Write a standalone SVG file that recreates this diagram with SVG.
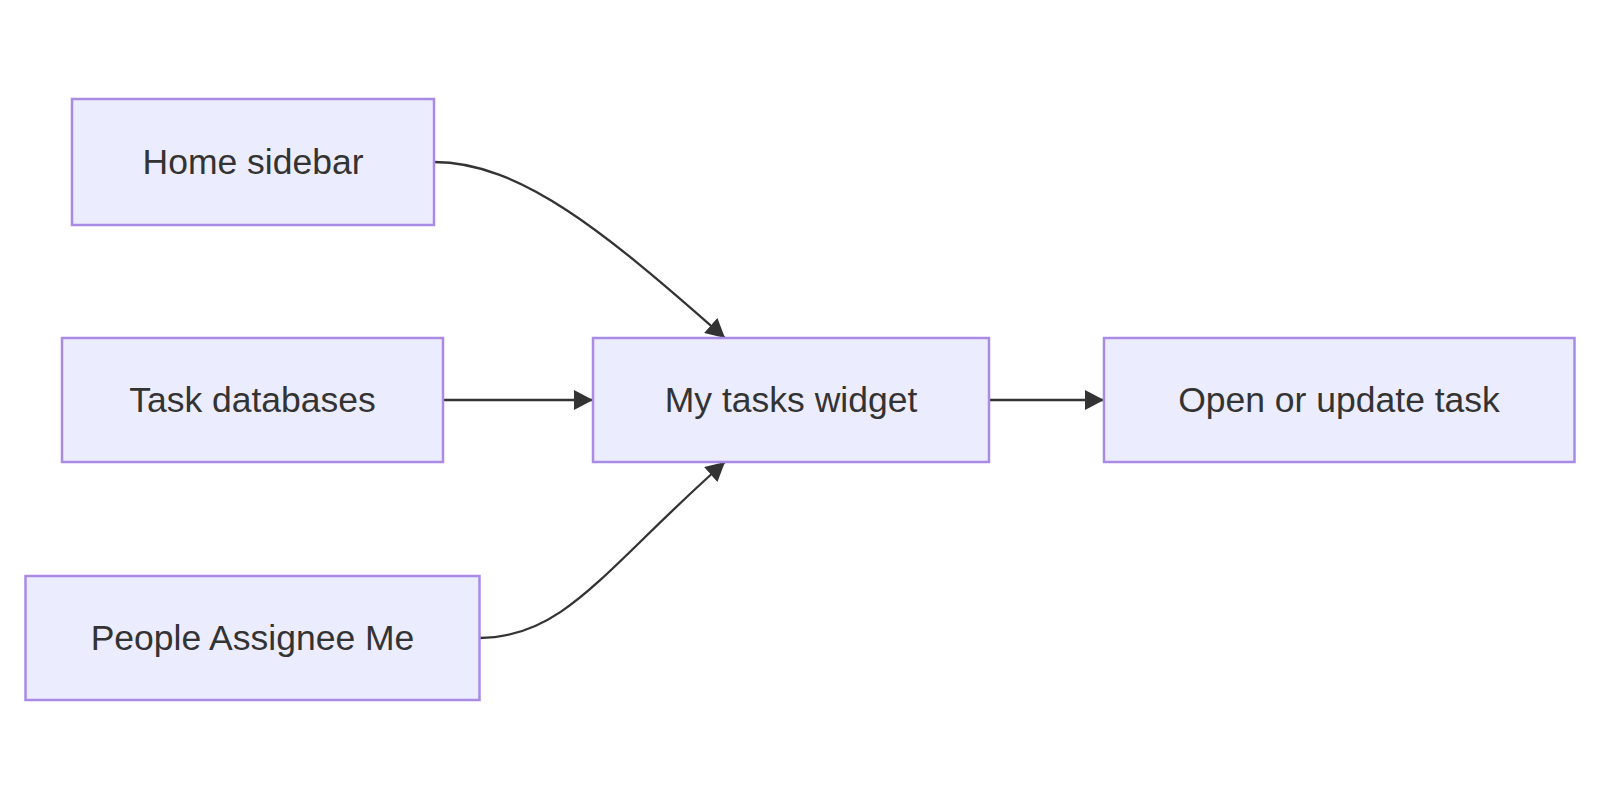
<svg xmlns="http://www.w3.org/2000/svg" width="1600" height="800" viewBox="0 0 1600 800">
  <style>
    .node rect { fill: #ECECFF; stroke: #A98BE6; stroke-width: 2.5; }
    .node text { font-family: "Liberation Sans", Arial, sans-serif; font-size: 35.5px; fill: #333333; text-anchor: middle; dominant-baseline: central; }
    .edge { fill: none; stroke: #333333; stroke-width: 2.3; marker-end: url(#arrow); }
  </style>
  <defs>
    <marker id="arrow" markerUnits="userSpaceOnUse" viewBox="0 0 19 20" refX="19" refY="10" markerWidth="19" markerHeight="20" orient="auto">
      <path d="M0,0 L19,10 L0,20 z" fill="#333333"/>
    </marker>
  </defs>
  <rect width="1600" height="800" fill="#ffffff"/>
  <g id="connectors">
    <path class="edge" d="M434,162 C520,162 605,232 725,338"/>
    <path class="edge" d="M443,400 L593,400"/>
    <path class="edge" d="M479,638 C565,638 605,568 725,462"/>
    <path class="edge" d="M989,400 L1104,400"/>
  </g>
  <g id="home-sidebar" class="node">
    <rect x="72" y="99" width="362" height="126"/>
    <text x="253" y="162">Home sidebar</text>
  </g>
  <g id="task-databases" class="node">
    <rect x="62" y="338" width="381" height="124"/>
    <text x="252.5" y="400">Task databases</text>
  </g>
  <g id="people-assignee-me" class="node">
    <rect x="25.5" y="576" width="454" height="124"/>
    <text x="252.5" y="638">People Assignee Me</text>
  </g>
  <g id="my-tasks-widget" class="node">
    <rect x="593" y="338" width="396" height="124"/>
    <text x="791" y="400">My tasks widget</text>
  </g>
  <g id="open-or-update-task" class="node">
    <rect x="1104" y="338" width="470.5" height="124"/>
    <text x="1339" y="400">Open or update task</text>
  </g>
</svg>
